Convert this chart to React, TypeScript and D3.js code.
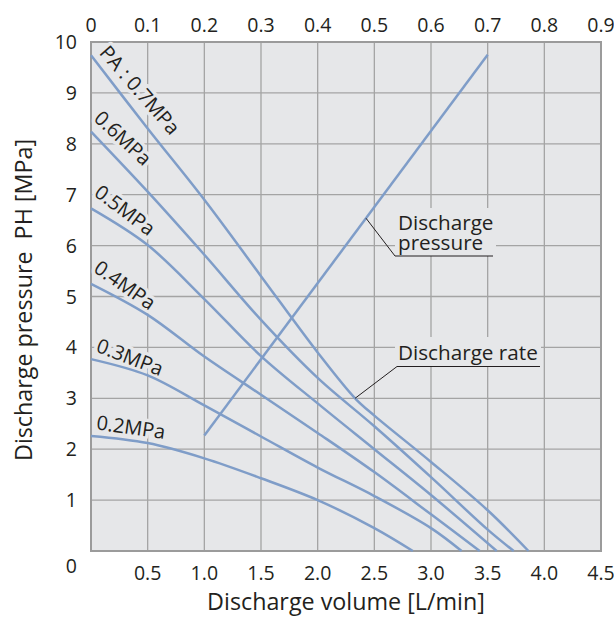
import React from "react";
import * as d3 from "d3";

const W = 614;
const H = 623;

// axis ticks
const volumeTicks = [0.5, 1.0, 1.5, 2.0, 2.5, 3.0, 3.5, 4.0, 4.5];
const airPressureTicks = [0, 0.1, 0.2, 0.3, 0.4, 0.5, 0.6, 0.7, 0.8, 0.9];
const pressureTicks = [0, 1, 2, 3, 4, 5, 6, 7, 8, 9, 10];

// discharge pressure line (top axis: PA [MPa])
const dischargeLineAir = [0.2, 0.7];
const dischargeLinePressure = [2.27, 9.75];

// discharge rate curves (bottom axis: volume [L/min])
const rate07Volume = [0, 0.5, 1.0, 1.5, 2.0, 2.33, 2.5, 3.0, 3.5, 3.86];
const rate07Pressure = [9.74, 8.3, 6.9, 5.4, 3.9, 3.0, 2.66, 1.75, 0.8, 0];
const rate06Volume = [0, 0.5, 1.0, 1.5, 2.0, 2.5, 3.0, 3.5, 3.73];
const rate06Pressure = [8.24, 7.06, 5.82, 4.54, 3.4, 2.45, 1.45, 0.42, 0];
const rate05Volume = [0, 0.5, 1.0, 1.5, 2.0, 2.5, 3.0, 3.58];
const rate05Pressure = [6.73, 6.01, 4.95, 3.83, 2.9, 2.0, 1.1, 0];
const rate04Volume = [0, 0.5, 1.0, 1.5, 2.0, 2.5, 3.0, 3.43];
const rate04Pressure = [5.25, 4.64, 3.82, 3.07, 2.32, 1.55, 0.72, 0];
const rate03Volume = [0, 0.5, 1.0, 1.5, 2.0, 2.5, 3.0, 3.27];
const rate03Pressure = [3.77, 3.45, 2.86, 2.25, 1.64, 1.08, 0.45, 0];
const rate02Volume = [0, 0.5, 1.0, 1.5, 2.0, 2.5, 2.84];
const rate02Pressure = [2.26, 2.12, 1.82, 1.43, 1.0, 0.45, 0];

const curveLabels = ["PA : 0.7MPa", "0.6MPa", "0.5MPa", "0.4MPa", "0.3MPa", "0.2MPa"];

const FONT = "'Open Sans', 'Noto Sans', sans-serif";
const TEXT = "#231f20";
const BG = "#e6e7e9";
const GRID = "#a4a4a4";
const CURVE = "#7f9dc8";

export default function App() {
  const left = 91, right = 601, top = 42, bottom = 551;
  const x = d3.scaleLinear().domain([0, 4.5]).range([left, right]);
  const xTop = d3.scaleLinear().domain([0, 0.9]).range([left, right]);
  const y = d3.scaleLinear().domain([0, 10]).range([bottom, top]);

  const rateLine = d3
    .line<[number, number]>()
    .x((d) => x(d[0]))
    .y((d) => y(d[1]))
    .curve(d3.curveCatmullRom.alpha(0.5));
  const pressLine = d3
    .line<[number, number]>()
    .x((d) => xTop(d[0]))
    .y((d) => y(d[1]));

  const curves: [number[], number[]][] = [
    [rate07Volume, rate07Pressure],
    [rate06Volume, rate06Pressure],
    [rate05Volume, rate05Pressure],
    [rate04Volume, rate04Pressure],
    [rate03Volume, rate03Pressure],
    [rate02Volume, rate02Pressure],
  ];

  const labelPlace = [
    { cx: 140, cy: 90, rot: 49 },
    { cx: 123, cy: 138, rot: 43 },
    { cx: 125, cy: 210, rot: 37 },
    { cx: 125, cy: 285, rot: 35 },
    { cx: 130, cy: 357, rot: 21 },
    { cx: 131, cy: 427, rot: 8 },
  ];

  const pressPts: [number, number][] = dischargeLineAir.map((a, i) => [a, dischargeLinePressure[i]]);

  // leader target on the discharge pressure line
  const leadAir = 0.4853;
  const leadP =
    dischargeLinePressure[0] +
    ((leadAir - dischargeLineAir[0]) / (dischargeLineAir[1] - dischargeLineAir[0])) *
      (dischargeLinePressure[1] - dischargeLinePressure[0]);
  const leadPx = xTop(leadAir);
  const leadPy = y(leadP);

  // leader target on 0.7 MPa discharge rate curve
  const rateLeadX = x(rate07Volume[5]);
  const rateLeadY = y(rate07Pressure[5]);

  return (
    <svg
      width={W}
      height={H}
      style={{ position: "absolute", left: 0, top: 0, background: "#fff" }}
      fontFamily={FONT}
    >
      <rect x={left} y={top} width={right - left} height={bottom - top} fill={BG} />
      {volumeTicks
        .filter((v) => v < 4.5)
        .map((v) => (
          <line key={"vx" + v} x1={x(v)} x2={x(v)} y1={top} y2={bottom} stroke={GRID} strokeWidth={1.3} />
        ))}
      {pressureTicks
        .filter((p) => p > 0 && p < 10)
        .map((p) => (
          <line key={"hy" + p} x1={left} x2={right} y1={y(p)} y2={y(p)} stroke={GRID} strokeWidth={1.3} />
        ))}
      <rect x={left} y={top} width={right - left} height={bottom - top} fill="none" stroke="#9b9b9b" strokeWidth={2} />

      {/* annotation backgrounds */}
      <rect x={395} y={208} width={101} height={48} fill={BG} />
      <rect x={395} y={337} width={146} height={29} fill={BG} />

      {/* curve labels with halo */}
      {curveLabels.map((t, i) => (
        <text
          key={t}
          transform={`translate(${labelPlace[i].cx},${labelPlace[i].cy}) rotate(${labelPlace[i].rot})`}
          textAnchor="middle"
          dy="0.36em"
          fontSize={20}
          fill={TEXT}
          stroke={BG}
          strokeWidth={7}
          paintOrder="stroke"
          strokeLinejoin="round"
        >
          {t}
        </text>
      ))}

      {curves.map(([vs, ps], i) => (
        <path
          key={"c" + i}
          d={rateLine(vs.map((v, j) => [v, ps[j]] as [number, number])) || ""}
          fill="none"
          stroke={CURVE}
          strokeWidth={2.5}
        />
      ))}
      <path d={pressLine(pressPts) || ""} fill="none" stroke={CURVE} strokeWidth={2.5} />

      {/* annotations */}
      <text x={398} y={229.5} fontSize={20.7} fill={TEXT}>Discharge</text>
      <text x={398} y={250} fontSize={20.7} fill={TEXT}>pressure</text>
      <polyline
        points={`${leadPx},${leadPy} 395,256 493,256`}
        fill="none"
        stroke={TEXT}
        strokeWidth={1}
      />
      <text x={398} y={360} fontSize={20.7} fill={TEXT}>Discharge rate</text>
      <polyline
        points={`${rateLeadX},${rateLeadY} 397,366.5 540,366.5`}
        fill="none"
        stroke={TEXT}
        strokeWidth={1}
      />

      {/* bottom ticks */}
      {volumeTicks.map((v) => (
        <text key={"bt" + v} x={x(v)} y={579.5} textAnchor="middle" fontSize={19.5} fill={TEXT}>
          {v.toFixed(1)}
        </text>
      ))}
      {/* top ticks */}
      {airPressureTicks.map((a) => (
        <text key={"tt" + a} x={xTop(a)} y={32} textAnchor="middle" fontSize={19.5} fill={TEXT}>
          {a === 0 ? "0" : a.toFixed(1)}
        </text>
      ))}
      {/* left ticks */}
      {pressureTicks.map((p) => (
        <text
          key={"lt" + p}
          x={77}
          y={p === 0 ? 566 : y(p)}
          dy="0.36em"
          textAnchor="end"
          fontSize={19.5}
          fill={TEXT}
        >
          {p}
        </text>
      ))}

      <text x={(left + right) / 2} y={610} textAnchor="middle" fontSize={23.3} fill={TEXT}>
        Discharge volume [L/min]
      </text>
      <text
        transform={`translate(32,300) rotate(-90)`}
        textAnchor="middle"
        fontSize={23.3}
        fill={TEXT}
        style={{ whiteSpace: "pre" }}
      >
        {"Discharge pressure  PH [MPa]"}
      </text>
    </svg>
  );
}
